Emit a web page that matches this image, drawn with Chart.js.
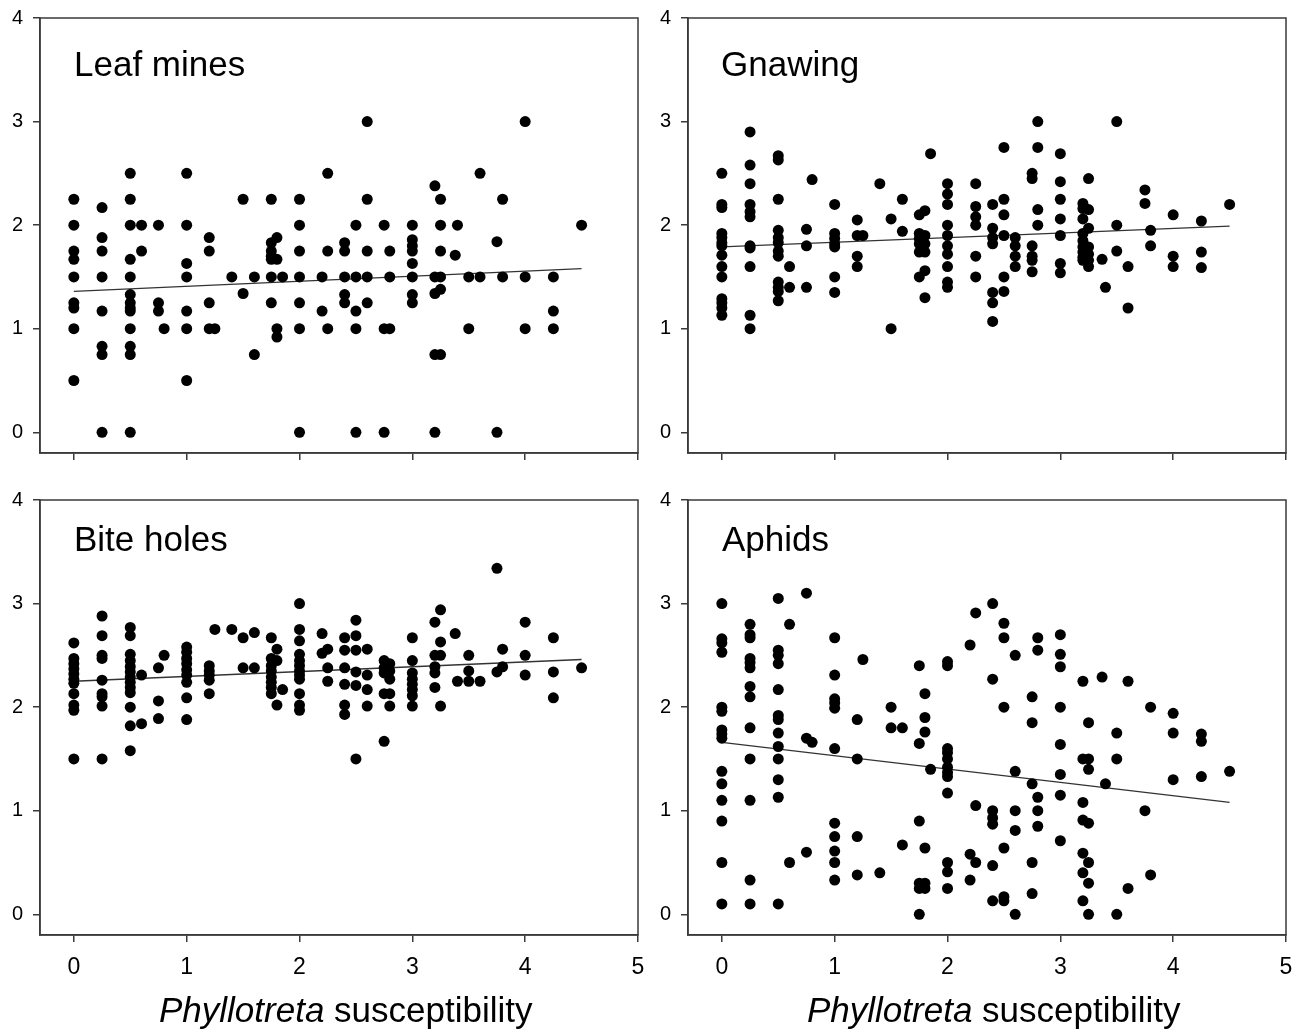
<!DOCTYPE html>
<html>
<head>
<meta charset="utf-8">
<script src="https://cdn.jsdelivr.net/npm/chart.js@4.4.1/dist/chart.umd.min.js"></script>
<style>
  body { margin: 0; background: #fff; width: 1304px; height: 1033px; position: relative; overflow: hidden;
         font-family: 'Liberation Sans', Arial, sans-serif; }
  .panel { position: absolute; }
  .panel canvas { display: block; }
  .ttl { position: absolute; font-size: 35px; line-height: 35px; color: #000; white-space: nowrap; }
</style>
</head>
<body>
<div class="panel" style="left:0;top:0"><canvas id="leaf" width="650" height="480"></canvas></div>
<div class="panel" style="left:648px;top:0"><canvas id="gnaw" width="650" height="480"></canvas></div>
<div class="panel" style="left:0;top:482px"><canvas id="bite" width="650" height="510"></canvas></div>
<div class="panel" style="left:648px;top:482px"><canvas id="aphid" width="650" height="510"></canvas></div>

<div class="ttl" style="left:74px;top:46px">Leaf mines</div>
<div class="ttl" style="left:721px;top:46px">Gnawing</div>
<div class="ttl" style="left:74px;top:521px">Bite holes</div>
<div class="ttl" style="left:722px;top:521px">Aphids</div>
<div class="ttl" style="left:159px;top:992px"><i>Phyllotreta</i> susceptibility</div>
<div class="ttl" style="left:807px;top:992px"><i>Phyllotreta</i> susceptibility</div>

<script>
// Phyllotreta susceptibility (x) -> damage scores (y), grouped by x
var leafMines = [
  [0, [2.25, 2, 1.75, 1.67, 1.5, 1.25, 1.2, 1, 0.5]],
  [0.25, [2.17, 1.88, 1.75, 1.5, 1.17, 0.83, 0.75, 0]],
  [0.5, [2.5, 2.25, 2, 1.67, 1.5, 1.33, 1.25, 1.2, 1.17, 1, 0.83, 0.75, 0]],
  [0.6, [2, 1.75]],
  [0.75, [2, 1.25, 1.17]],
  [0.8, [1]],
  [1, [2.5, 2, 1.63, 1.5, 1.17, 1, 0.5]],
  [1.2, [1.88, 1.75, 1.25, 1]],
  [1.25, [1]],
  [1.4, [1.5]],
  [1.5, [2.25, 1.34]],
  [1.6, [1.5, 0.75]],
  [1.75, [2.25, 1.83, 1.75, 1.7, 1.67, 1.5, 1.25]],
  [1.8, [1.88, 1.67, 1, 0.92]],
  [1.85, [1.5]],
  [2, [2.25, 2, 1.75, 1.5, 1.25, 1, 0]],
  [2.2, [1.5, 1.17]],
  [2.25, [2.5, 1.75, 1]],
  [2.4, [1.83, 1.75, 1.5, 1.33, 1.25]],
  [2.5, [2, 1.5, 1.17, 1, 0]],
  [2.6, [3, 2.25, 1.75, 1.5, 1.25]],
  [2.75, [2, 1, 0]],
  [2.8, [1.75, 1.5, 1]],
  [3, [2, 1.86, 1.8, 1.75, 1.63, 1.5, 1.33, 1.25]],
  [3.2, [2.38, 1.5, 1.34, 0.75, 0]],
  [3.25, [2.25, 2, 1.75, 1.5, 1.38, 0.75]],
  [3.38, [1.71]],
  [3.4, [2]],
  [3.5, [1.5, 1]],
  [3.6, [2.5, 1.5]],
  [3.75, [1.84, 0]],
  [3.8, [2.25, 1.5]],
  [4, [3, 1.5, 1]],
  [4.25, [1.5, 1.17, 1]],
  [4.5, [2]]
];

var gnawing = [
  [0, [2.5, 2.2, 2.17, 1.92, 1.88, 1.83, 1.8, 1.71, 1.6, 1.5, 1.29, 1.25, 1.2, 1.13]],
  [0.25, [2.9, 2.58, 2.4, 2.2, 2.13, 2.08, 1.8, 1.78, 1.6, 1.13, 1]],
  [0.5, [2.67, 2.63, 2.25, 1.95, 1.88, 1.83, 1.75, 1.7, 1.45, 1.4, 1.36, 1.27]],
  [0.6, [1.6, 1.4]],
  [0.75, [1.96, 1.8, 1.4]],
  [0.8, [2.44]],
  [1, [2.2, 1.92, 1.87, 1.82, 1.79, 1.5, 1.35]],
  [1.2, [2.05, 1.9, 1.7, 1.6]],
  [1.25, [1.9]],
  [1.4, [2.4]],
  [1.5, [2.06, 1]],
  [1.6, [2.25, 1.94]],
  [1.75, [2.1, 1.92, 1.87, 1.82, 1.74, 1.5]],
  [1.8, [2.14, 1.9, 1.82, 1.74, 1.56, 1.3]],
  [1.85, [2.69]],
  [2, [2.4, 2.3, 2.2, 2, 1.9, 1.8, 1.72, 1.6, 1.45, 1.4]],
  [2.25, [2.4, 2.18, 2.08, 2, 1.7, 1.5]],
  [2.4, [2.2, 1.97, 1.88, 1.82, 1.35, 1.25, 1.07]],
  [2.5, [2.75, 2.25, 2.1, 1.9, 1.5, 1.36]],
  [2.6, [1.88, 1.8, 1.7, 1.6]],
  [2.75, [2.5, 2.45, 1.8, 1.7, 1.66, 1.55]],
  [2.8, [3, 2.75, 2.15, 2]],
  [3, [2.69, 2.42, 2.25, 2.06, 1.9, 1.63, 1.54]],
  [3.2, [2.21, 2.16, 2.06, 1.92, 1.85, 1.79, 1.74, 1.69, 1.66]],
  [3.25, [2.45, 2.15, 1.97, 1.79, 1.72, 1.66, 1.6]],
  [3.37, [1.67]],
  [3.4, [1.4]],
  [3.5, [3, 2, 1.75]],
  [3.6, [1.6, 1.2]],
  [3.75, [2.34, 2.21]],
  [3.8, [1.95, 1.8]],
  [4, [2.1, 1.7, 1.6]],
  [4.25, [2.04, 1.74, 1.59]],
  [4.5, [2.2]]
];

var biteHoles = [
  [0, [2.62, 2.47, 2.42, 2.37, 2.32, 2.27, 2.23, 2.13, 2.02, 1.97, 1.5]],
  [0.25, [2.88, 2.69, 2.5, 2.47, 2.26, 2.13, 2.1, 2.01, 1.5]],
  [0.5, [2.77, 2.69, 2.51, 2.45, 2.39, 2.34, 2.29, 2.24, 2.19, 2.14, 2, 1.82, 1.58]],
  [0.6, [2.31, 1.84]],
  [0.75, [2.38, 2.06, 1.89]],
  [0.8, [2.5]],
  [1, [2.58, 2.53, 2.47, 2.42, 2.36, 2.31, 2.24, 2.09, 1.88]],
  [1.2, [2.4, 2.35, 2.31, 2.26, 2.13]],
  [1.25, [2.75]],
  [1.4, [2.75]],
  [1.5, [2.67, 2.38]],
  [1.6, [2.72, 2.38]],
  [1.75, [2.67, 2.47, 2.4, 2.35, 2.29, 2.24, 2.19, 2.13]],
  [1.8, [2.56, 2.45, 2.02]],
  [1.85, [2.17]],
  [2, [3, 2.75, 2.64, 2.51, 2.45, 2.4, 2.35, 2.31, 2.27, 2.13, 2.02, 1.97]],
  [2.2, [2.71, 2.52]],
  [2.25, [2.56, 2.38, 2.25]],
  [2.4, [2.67, 2.55, 2.38, 2.22, 2.02, 1.93]],
  [2.5, [2.84, 2.69, 2.55, 2.34, 2.21, 1.5]],
  [2.6, [2.56, 2.31, 2.17, 2.01]],
  [2.75, [2.45, 2.38, 2.33, 2.13, 1.67]],
  [2.8, [2.42, 2.35, 2.27, 2.13, 2.01]],
  [3, [2.67, 2.45, 2.33, 2.27, 2.22, 2.17, 2.11, 2.01]],
  [3.2, [2.82, 2.5, 2.39, 2.33, 2.19]],
  [3.25, [2.94, 2.63, 2.5, 2.01]],
  [3.38, [2.71]],
  [3.4, [2.25]],
  [3.5, [2.5, 2.35, 2.25]],
  [3.6, [2.25]],
  [3.75, [3.34, 2.34]],
  [3.8, [2.56, 2.39]],
  [4, [2.82, 2.5, 2.31]],
  [4.25, [2.67, 2.34, 2.09]],
  [4.5, [2.38]]
];

var aphids = [
  [0, [3, 2.66, 2.62, 2.53, 2, 1.96, 1.78, 1.74, 1.7, 1.38, 1.26, 1.1, 0.9, 0.5, 0.1]],
  [0.25, [2.8, 2.7, 2.67, 2.47, 2.43, 2.38, 2.2, 2.1, 1.8, 1.5, 1.1, 0.33, 0.1]],
  [0.5, [3.05, 2.55, 2.5, 2.42, 2.17, 1.92, 1.88, 1.75, 1.62, 1.5, 1.3, 1.13, 0.1]],
  [0.6, [2.8, 0.5]],
  [0.75, [3.1, 1.7, 0.6]],
  [0.8, [1.66]],
  [1, [2.67, 2.31, 2.08, 2.04, 1.99, 1.6, 0.88, 0.75, 0.61, 0.5, 0.33]],
  [1.2, [1.88, 1.5, 0.75, 0.38]],
  [1.25, [2.46]],
  [1.4, [0.4]],
  [1.5, [2, 1.8]],
  [1.6, [1.8, 0.67]],
  [1.75, [2.4, 1.65, 0.9, 0.3, 0.25, 0]],
  [1.8, [2.13, 1.9, 1.76, 0.64, 0.3, 0.25]],
  [1.85, [1.4]],
  [2, [2.44, 2.4, 1.6, 1.56, 1.5, 1.42, 1.37, 1.33, 1.17, 0.5, 0.41, 0.25]],
  [2.2, [2.6, 0.58, 0.33]],
  [2.25, [2.91, 1.05, 0.5]],
  [2.4, [3, 2.27, 1, 0.93, 0.87, 0.47, 0.13]],
  [2.5, [2.81, 2.67, 2, 0.64, 0.17, 0.13]],
  [2.6, [2.5, 1.38, 1, 0.81, 0]],
  [2.75, [2.1, 1.85, 1.26, 0.5, 0.2]],
  [2.8, [2.67, 2.55, 1.13, 1, 0.85]],
  [3, [2.7, 2.51, 2.39, 2, 1.64, 1.35, 1.15, 0.71]],
  [3.2, [2.25, 1.5, 1.08, 0.91, 0.59, 0.4, 0.13]],
  [3.25, [1.85, 1.5, 1.4, 0.88, 0.5, 0.3, 0]],
  [3.37, [2.29]],
  [3.4, [1.26]],
  [3.5, [1.75, 1.5, 0]],
  [3.6, [2.25, 0.25]],
  [3.75, [1]],
  [3.8, [2, 0.38]],
  [4, [1.94, 1.75, 1.3]],
  [4.25, [1.74, 1.67, 1.33]],
  [4.5, [1.38]]
];

// fitted regression lines, read at x = 0 and x = 4.5
var trendX = [0, 4.5];
var leafTrend = [1.36, 1.58];
var gnawTrend = [1.79, 1.99];
var biteTrend = [2.25, 2.46];
var aphidTrend = [1.66, 1.08];

var xTicks = [0, 1, 2, 3, 4, 5];
var yTicks = [0, 1, 2, 3, 4];

var FONT = "'Liberation Sans', Arial, sans-serif";
var AXIS = '#3a3a3a';

var boxPlugin = {
  id: 'box',
  afterDraw: function (chart) {
    var a = chart.chartArea, ctx = chart.ctx;
    ctx.save();
    ctx.strokeStyle = AXIS;
    ctx.lineWidth = 1.5;
    ctx.strokeRect(a.left, a.top, a.right - a.left, a.bottom - a.top);
    ctx.restore();
  }
};

function flatten(cols) {
  var pts = [];
  cols.forEach(function (c) {
    c[1].forEach(function (y) { pts.push({ x: c[0], y: y }); });
  });
  return pts;
}

function makeChart(id, cols, trend, bottomRow) {
  var h = bottomRow ? 510 : 480;
  new Chart(document.getElementById(id), {
    type: 'scatter',
    data: {
      datasets: [
        {
          data: flatten(cols),
          pointRadius: 5.5,
          pointHoverRadius: 5.5,
          pointBackgroundColor: '#000',
          pointBorderWidth: 0
        },
        {
          data: trendX.map(function (x, i) { return { x: x, y: trend[i] }; }),
          showLine: true,
          borderColor: '#333',
          borderWidth: 1.3,
          pointRadius: 0
        }
      ]
    },
    options: {
      responsive: false,
      animation: false,
      events: [],
      layout: { padding: { top: 18, right: 12, left: 0, bottom: 0 } },
      plugins: { legend: { display: false }, tooltip: { enabled: false } },
      scales: {
        x: {
          type: 'linear', min: -0.3, max: 5,
          afterFit: function (s) {
            s.height = h - 453;
            s.paddingLeft = 0; s.paddingRight = 0;
          },
          afterBuildTicks: function (s) { s.ticks = xTicks.map(function (v) { return { value: v }; }); },
          grid: { drawOnChartArea: false, tickLength: 7, color: AXIS, lineWidth: 1.5 },
          border: { color: AXIS, width: 1.5 },
          ticks: { display: bottomRow, padding: 12, color: '#000', font: { size: 23, family: FONT } }
        },
        y: {
          min: -0.2, max: 4,
          afterFit: function (s) {
            s.width = 40;
            s.paddingTop = 0; s.paddingBottom = 0;
          },
          afterBuildTicks: function (s) { s.ticks = yTicks.map(function (v) { return { value: v }; }); },
          grid: { drawOnChartArea: false, tickLength: 7, color: AXIS, lineWidth: 1.5 },
          border: { color: AXIS, width: 1.5 },
          ticks: { padding: 10, color: '#000', font: { size: 20, family: FONT } }
        }
      }
    },
    plugins: [boxPlugin]
  });
}

makeChart('leaf', leafMines, leafTrend, false);
makeChart('gnaw', gnawing, gnawTrend, false);
makeChart('bite', biteHoles, biteTrend, true);
makeChart('aphid', aphids, aphidTrend, true);
</script>
</body>
</html>
